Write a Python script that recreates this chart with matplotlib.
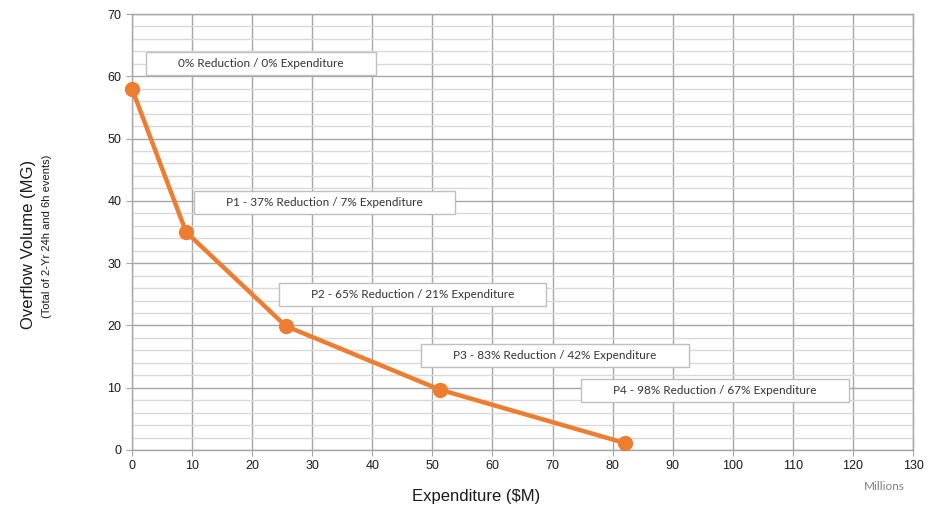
import matplotlib.pyplot as plt
from matplotlib.patches import Rectangle
from matplotlib.ticker import MultipleLocator

# expenditure ($M) vs overflow volume (MG) for each package
expenditure = [0, 9.0, 25.6, 51.2, 82.1]
overflow = [58, 35, 19.9, 9.7, 1.1]
labels = [
    "0% Reduction / 0% Expenditure",
    "P1 - 37% Reduction / 7% Expenditure",
    "P2 - 65% Reduction / 21% Expenditure",
    "P3 - 83% Reduction / 42% Expenditure",
    "P4 - 98% Reduction / 67% Expenditure",
]
# where each callout box sits (data coords)
label_pos = [(21.5, 62.0), (32.1, 39.8), (46.7, 24.9), (70.4, 15.1), (97.0, 9.5)]

orange = "#ED7D31"

fig = plt.figure(figsize=(9.4, 5.11), dpi=100)
ax = fig.add_axes([0.1404, 0.1194, 0.8309, 0.8532])

ax.set_xlim(0, 130)
ax.set_ylim(0, 70)
ax.xaxis.set_major_locator(MultipleLocator(10))
ax.yaxis.set_major_locator(MultipleLocator(10))
ax.yaxis.set_minor_locator(MultipleLocator(2))

ax.grid(True, which="major", color="#a6a6a6", linewidth=1.0)
ax.grid(True, which="minor", axis="y", color="#d9d9d9", linewidth=1.0)
ax.set_axisbelow(True)
for s in ax.spines.values():
    s.set_color("#a6a6a6")
    s.set_linewidth(1.0)

ax.tick_params(which="major", length=4, color="#a6a6a6", labelsize=9,
               labelcolor="#1a1a1a", labelfontfamily="Liberation Sans")
ax.tick_params(which="minor", length=0)

ax.plot(expenditure, overflow, color=orange, linewidth=3.2, marker="o",
        markersize=10, zorder=3, clip_on=False)

texts = []
for lab, (tx, ty) in zip(labels, label_pos):
    t = ax.text(tx, ty, lab, ha="center", va="center", fontsize=8.5,
                family="Lato", color="#333333", zorder=5)
    texts.append(t)

# white callout boxes, wider than the text like the spreadsheet ones
fig.canvas.draw()
renderer = fig.canvas.get_renderer()
inv = ax.transAxes.inverted()
for t in texts:
    bb = t.get_window_extent(renderer)
    x0, y0 = inv.transform((bb.x0 - 32, bb.y0 - 6))
    x1, y1 = inv.transform((bb.x1 + 32, bb.y1 + 6))
    ax.add_patch(Rectangle((x0, y0), x1 - x0, y1 - y0, transform=ax.transAxes,
                           facecolor="white", edgecolor="#bfbfbf",
                           linewidth=1.0, zorder=4))

fig.text(0.507, 0.028, "Expenditure ($M)", ha="center", va="center",
         fontsize=12, family="Liberation Sans", color="#1a1a1a")
fig.text(0.941, 0.047, "Millions", ha="center", va="center",
         fontsize=8.5, family="Lato", color="#7f7f7f")
fig.text(0.030, 0.522, "Overflow Volume (MG)", rotation=90, ha="center",
         va="center", fontsize=12, family="Liberation Sans", color="#1a1a1a")
fig.text(0.050, 0.538, "(Total of 2-Yr 24h and 6h events)", rotation=90,
         ha="center", va="center", fontsize=8, family="Liberation Sans",
         color="#1a1a1a")

fig.savefig("out.png", dpi=100)
